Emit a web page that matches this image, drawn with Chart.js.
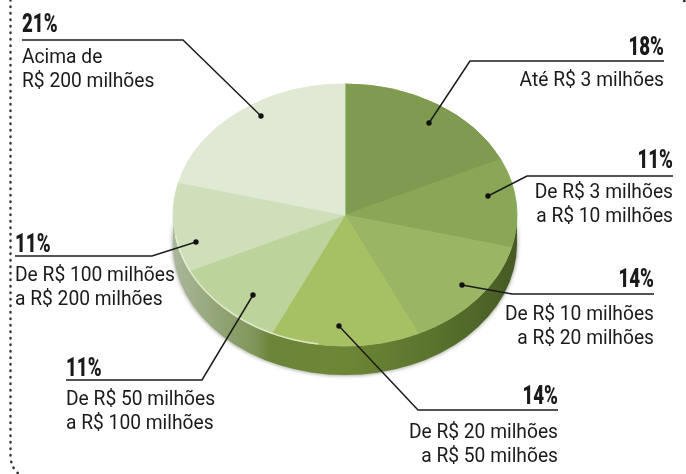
<!DOCTYPE html>
<html>
<head>
<meta charset="utf-8">
<style>
  html, body { margin: 0; padding: 0; background: #fff; }
  #wrap { width: 686px; height: 474px; }
</style>
<script src="https://cdn.jsdelivr.net/npm/chart.js@4"></script>
</head>
<body>
<div id="wrap"><canvas id="pie" width="686" height="474"></canvas></div>
<script>
const percents = [18, 11, 14, 14, 11, 11, 21];
const headings = ["18%", "11%", "14%", "14%", "11%", "11%", "21%"];
const labelLines = [
    ["Até R$ 3 milhões"],
    ["De R$ 3 milhões", "a R$ 10 milhões"],
    ["De R$ 10 milhões", "a R$ 20 milhões"],
    ["De R$ 20 milhões", "a R$ 50 milhões"],
    ["De R$ 50 milhões", "a R$ 100 milhões"],
    ["De R$ 100 milhões", "a R$ 200 milhões"],
    ["Acima de", "R$ 200 milhões"]
];
const sliceColors = ["#7f9b4f", "#8aa657", "#9ab665", "#a6c164", "#bcd39b", "#cfdfba", "#dfe9d3"];

// callout layout: rule, where the text sits against it, elbow and dot
const callouts = [
    { x0: 510, x1: 664, y: 61, headY: -6, textY: 25, align: "right", elbow: [470, 61], dot: [429, 123] },
    { x0: 527, x1: 673, y: 176, headY: -8, textY: 22, align: "right", elbow: [527, 176], dot: [488, 196] },
    { x0: 512, x1: 654, y: 294, headY: -7, textY: 26, align: "right", elbow: [512, 294], dot: [462, 285] },
    { x0: 418, x1: 558, y: 410, headY: -6, textY: 28, align: "right", elbow: [418, 410], dot: [339, 326] },
    { x0: 66, x1: 202, y: 380, headY: -4, textY: 25, align: "left", elbow: [202, 380], dot: [253, 295] },
    { x0: 15, x1: 152, y: 256, headY: -4, textY: 25, align: "left", elbow: [152, 256], dot: [196, 242] },
    { x0: 22, x1: 183, y: 40, headY: -8, textY: 23, align: "left", elbow: [183, 40], dot: [261, 116] }
];

const squash = 0.762;
const depth = 29;
const headFont = "900 26px Roboto";
const textFont = "19.5px Roboto";

// narrow text: no condensed face is installed, so squeeze it sideways
function narrowText(ctx, text, x, y, font, sx) {
    ctx.save();
    ctx.font = font;
    ctx.translate(x, y);
    ctx.scale(sx, 1);
    ctx.fillText(text, 0, 0);
    ctx.restore();
}

const tiltPlugin = {
    id: "tilt",
    beforeDatasetsDraw(chart) {
        const ctx = chart.ctx;
        const arc = chart.getDatasetMeta(0).data[0];
        const r = arc.outerRadius, ry = r * squash, cx = arc.x, cy = arc.y;

        // side wall of the disc
        const wall = ctx.createLinearGradient(cx - r, 0, cx + r, 0);
        wall.addColorStop(0, "#a9b89a");
        wall.addColorStop(0.24, "#7f9558");
        wall.addColorStop(0.28, "#6b8539");
        wall.addColorStop(0.5, "#6d8636");
        wall.addColorStop(0.75, "#5a742d");
        wall.addColorStop(1, "#455a24");
        ctx.save();
        ctx.shadowColor = "rgba(40,50,20,0.6)";
        ctx.shadowBlur = 4;
        ctx.beginPath();
        ctx.ellipse(cx, cy + depth, r, ry, 0, 0, Math.PI);
        ctx.lineTo(cx - r, cy);
        ctx.ellipse(cx, cy, r, ry, 0, Math.PI, 0, true);
        ctx.closePath();
        ctx.fillStyle = wall;
        ctx.fill();
        ctx.restore();

        ctx.save();
        ctx.filter = "blur(0.6px)";
        ctx.translate(0, cy * (1 - squash));
        ctx.scale(1, squash);
    },
    afterDatasetsDraw(chart) {
        const ctx = chart.ctx;
        ctx.restore();

        // pale rim on the lower left of the top face
        const arc = chart.getDatasetMeta(0).data[0];
        const r = arc.outerRadius;
        ctx.save();
        ctx.strokeStyle = "rgba(235,242,220,0.75)";
        ctx.lineWidth = 1.5;
        ctx.beginPath();
        ctx.ellipse(arc.x, arc.y, r - 0.5, r * squash - 0.5, 0, Math.PI * 0.55, Math.PI * 0.95);
        ctx.stroke();
        ctx.restore();
    }
};

const calloutPlugin = {
    id: "callouts",
    afterDraw(chart) {
        const ctx = chart.ctx;
        ctx.save();

        // dotted edge of the page
        ctx.strokeStyle = "#333";
        ctx.lineWidth = 2.4;
        ctx.lineCap = "round";
        ctx.setLineDash([0.5, 6]);
        ctx.beginPath();
        ctx.moveTo(10.5, 0);
        ctx.lineTo(10.5, 456);
        ctx.quadraticCurveTo(11, 468, 19, 474);
        ctx.moveTo(684, 1);
        ctx.lineTo(684.5, 1);
        ctx.stroke();
        ctx.setLineDash([]);

        ctx.textBaseline = "alphabetic";
        ctx.textAlign = "left";
        callouts.forEach((c, i) => {
            ctx.strokeStyle = "#1c1c1c";
            ctx.lineWidth = 1.5;
            ctx.lineCap = "butt";
            ctx.beginPath();
            ctx.moveTo(c.align === "right" ? c.x1 : c.x0, c.y);
            ctx.lineTo(c.elbow[0], c.elbow[1]);
            ctx.lineTo(c.dot[0], c.dot[1]);
            ctx.stroke();
            ctx.fillStyle = "#111";
            ctx.beginPath();
            ctx.arc(c.dot[0], c.dot[1], 2.7, 0, Math.PI * 2);
            ctx.fill();

            ctx.fillStyle = "#1a1a1a";
            const place = (text, font, sx, y) => {
                ctx.font = font;
                const w = ctx.measureText(text).width * sx;
                const x = c.align === "right" ? c.x1 - w : c.x0;
                narrowText(ctx, text, x, y, font, sx);
            };
            place(headings[i], headFont, 0.72, c.y + c.headY);
            labelLines[i].forEach((line, k) => {
                place(line, textFont, 0.985, c.y + c.textY + k * 24);
            });
        });
        ctx.restore();
    }
};

new Chart(document.getElementById("pie").getContext("2d"), {
    type: "pie",
    data: {
        labels: labelLines.map(l => l.join(" ")),
        datasets: [{
            data: percents,
            backgroundColor: sliceColors,
            borderColor: sliceColors,
            borderWidth: 1
        }]
    },
    options: {
        responsive: false,
        animation: false,
        radius: 172,
        layout: { padding: { left: 4, bottom: 44 } },
        plugins: { legend: { display: false }, tooltip: { enabled: false } }
    },
    plugins: [tiltPlugin, calloutPlugin]
});
</script>
</body>
</html>
